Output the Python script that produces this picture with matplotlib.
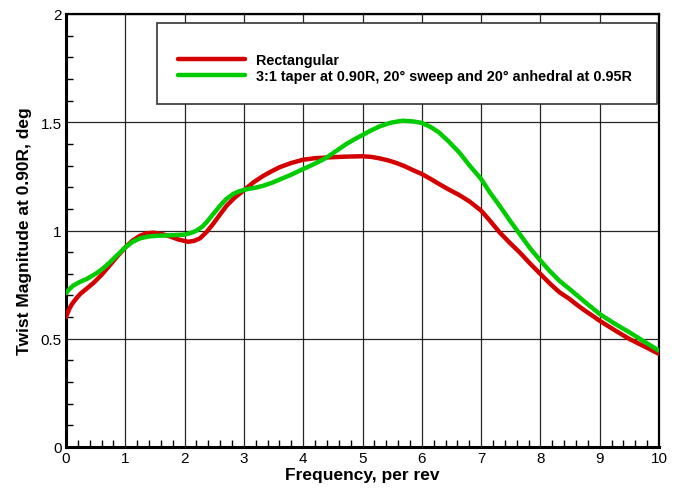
import matplotlib
matplotlib.use("Agg")
import matplotlib.pyplot as plt
from matplotlib.patches import Rectangle
from matplotlib.ticker import MultipleLocator, FixedLocator, FixedFormatter

plt.rcParams['font.family'] = ['Liberation Sans', 'DejaVu Sans']

# Data
rect_x = [0.0, 0.05, 0.1, 0.17, 0.24, 0.35, 0.46, 0.6, 0.74, 0.87, 1.0, 1.12, 1.25, 1.36,
          1.47, 1.6, 1.75, 1.9, 2.06, 2.16, 2.26, 2.37, 2.48, 2.6, 2.71, 2.85, 3.0, 3.16,
          3.33, 3.47, 3.6, 3.8, 4.0, 4.2, 4.45, 4.7, 5.0, 5.15, 5.29, 5.43, 5.57, 5.71,
          5.85, 6.0, 6.15, 6.29, 6.45, 6.63, 6.8, 7.0, 7.15, 7.31, 7.48, 7.65, 7.82, 8.0,
          8.16, 8.32, 8.49, 8.62, 8.75, 8.88, 9.0, 9.25, 9.5, 9.75, 10.0]
rect_y = [0.600, 0.635, 0.660, 0.685, 0.707, 0.732, 0.757, 0.795, 0.840, 0.882, 0.922, 0.953,
          0.976, 0.987, 0.990, 0.985, 0.973, 0.958, 0.948, 0.952, 0.964, 0.993, 1.030, 1.075,
          1.115, 1.153, 1.186, 1.222, 1.253, 1.274, 1.292, 1.312, 1.327, 1.334, 1.338, 1.341,
          1.343, 1.340, 1.333, 1.324, 1.312, 1.297, 1.279, 1.261, 1.238, 1.215, 1.190, 1.164,
          1.135, 1.092, 1.045, 0.992, 0.944, 0.899, 0.849, 0.799, 0.755, 0.715, 0.684, 0.656,
          0.630, 0.606, 0.583, 0.540, 0.499, 0.465, 0.430]

taper_x = [0.0, 0.06, 0.12, 0.23, 0.35, 0.52, 0.63, 0.74, 0.87, 1.0, 1.12, 1.25, 1.4, 1.58,
           1.8, 2.0, 2.1, 2.2, 2.3, 2.37, 2.48, 2.6, 2.7, 2.82, 2.93, 3.04, 3.2, 3.33, 3.47,
           3.6, 3.8, 4.0, 4.2, 4.39, 4.56, 4.73, 4.87, 5.0, 5.15, 5.29, 5.48, 5.67, 5.85,
           6.0, 6.15, 6.29, 6.45, 6.63, 6.8, 7.0, 7.15, 7.31, 7.48, 7.65, 7.82, 8.0, 8.16,
           8.32, 8.49, 8.62, 8.75, 8.88, 9.0, 9.25, 9.5, 9.75, 10.0]
taper_y = [0.710, 0.730, 0.745, 0.762, 0.776, 0.804, 0.826, 0.853, 0.888, 0.922, 0.947, 0.964,
           0.973, 0.976, 0.978, 0.981, 0.988, 0.999, 1.018, 1.038, 1.075, 1.115, 1.145, 1.169,
           1.182, 1.190, 1.198, 1.207, 1.220, 1.235, 1.258, 1.284, 1.309, 1.336, 1.368, 1.400,
           1.422, 1.441, 1.463, 1.481, 1.498, 1.507, 1.504, 1.497, 1.478, 1.453, 1.412, 1.361,
           1.302, 1.238, 1.175, 1.115, 1.048, 0.984, 0.920, 0.861, 0.812, 0.768, 0.730, 0.700,
           0.670, 0.641, 0.614, 0.570, 0.530, 0.487, 0.445]

labels = ["Rectangular",
          "3:1 taper at 0.90R, 20\u00b0 sweep and 20\u00b0 anhedral at 0.95R"]
xticks = [0, 1, 2, 3, 4, 5, 6, 7, 8, 9, 10]
yticks = [0, 0.5, 1, 1.5, 2]
ytick_labels = ["0", "0.5", "1", "1.5", "2"]

red = "#d40000"
green = "#00cc00"

fig = plt.figure(figsize=(6.86, 4.89), dpi=100)
ax = fig.add_axes([66/686, 1 - 448/489, (659-66)/686, (448-15)/489])

ax.set_xlim(0, 10)
ax.set_ylim(0, 2)
ax.xaxis.set_major_locator(FixedLocator(xticks))
ax.xaxis.set_minor_locator(MultipleLocator(0.2))
ax.yaxis.set_major_locator(FixedLocator(yticks))
ax.yaxis.set_major_formatter(FixedFormatter(ytick_labels))
ax.yaxis.set_minor_locator(MultipleLocator(0.1))
ax.grid(True, which='major', color='black', linewidth=0.9, alpha=0.85)
ax.set_axisbelow(True)

ax.tick_params(which='both', direction='in', top=False, right=False, labelsize=11,
               colors='black')
ax.tick_params(which='major', length=0, pad=3)
ax.tick_params(which='minor', length=5, width=1)
for s in ['left', 'bottom']:
    ax.spines[s].set_linewidth(2.2)
for s in ['top', 'right']:
    ax.spines[s].set_linewidth(1.6)

l1, = ax.plot(rect_x, rect_y, color=red, lw=3.2, solid_joinstyle='round',
              solid_capstyle='round', zorder=3)
l2, = ax.plot(taper_x, taper_y, color=green, lw=3.2, solid_joinstyle='round',
              solid_capstyle='round', zorder=4)

ax.set_xlabel("Frequency, per rev", fontsize=12.5, fontweight='bold', labelpad=1)
ax.set_ylabel("Twist Magnitude at 0.90R, deg", fontsize=12.5, fontweight='bold', labelpad=6)

# Legend box
x0 = (156.7 - 66) / 59.3
x1 = (656.7 - 66) / 59.3
y1 = (448 - 23.5) / 216.5
y0 = (448 - 105) / 216.5
ax.add_patch(Rectangle((x0, y0), x1 - x0, y1 - y0, facecolor='white',
                       edgecolor='#333333', lw=1.2, zorder=5))
leg = ax.legend([l1, l2], labels, loc='upper left',
                bbox_to_anchor=((178 - 66) / 593, 1 - (54 - 15) / 433),
                frameon=False, prop={'weight': 'bold', 'size': 10.4},
                handlelength=4.65, handletextpad=0.76, labelspacing=0.12,
                borderpad=0, borderaxespad=0)
leg.set_zorder(6)

fig.savefig("out.png", dpi=100)
